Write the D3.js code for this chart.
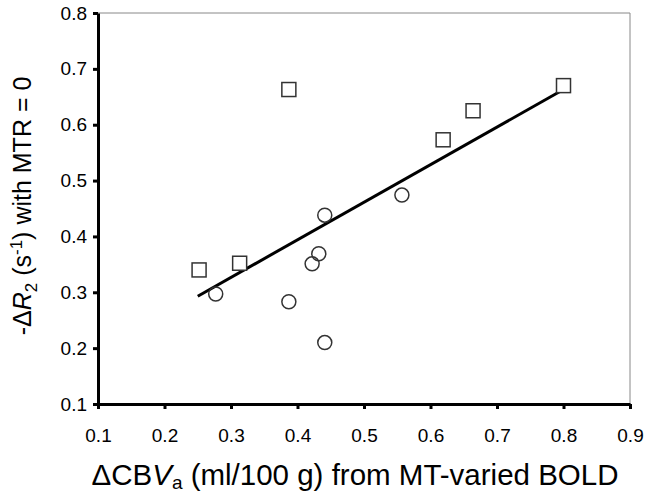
<!DOCTYPE html>
<html><head><meta charset="utf-8">
<script src="https://cdn.jsdelivr.net/npm/d3@7"></script>
<style>body{margin:0;background:#fff}svg{display:block;font-family:"Liberation Sans",Arial,sans-serif}</style>
</head><body>
<script>
const xTicks = [0.1,0.2,0.3,0.4,0.5,0.6,0.7,0.8,0.9];
const yTicks = [0.1,0.2,0.3,0.4,0.5,0.6,0.7,0.8];
const squaresX = [0.252,0.313,0.387,0.619,0.664,0.800];
const squaresY = [0.340,0.352,0.663,0.573,0.625,0.670];
const circlesX = [0.277,0.387,0.422,0.432,0.441,0.441,0.557];
const circlesY = [0.297,0.283,0.351,0.369,0.438,0.210,0.474];
const fitX = [0.25,0.80];
const fitY = [0.293,0.663];

const W=649,H=494;
const svg=d3.select("body").append("svg").attr("width",W).attr("height",H);
const x=d3.scaleLinear().domain([0.1,0.9]).range([98,630]);
const y=d3.scaleLinear().domain([0.1,0.8]).range([404,13]);

// gray frame top/right
svg.append("line").attr("x1",x(0.1)).attr("x2",x(0.9)).attr("y1",y(0.8)).attr("y2",y(0.8)).attr("stroke","#888").attr("stroke-width",1);
svg.append("line").attr("x1",x(0.9)).attr("x2",x(0.9)).attr("y1",y(0.8)).attr("y2",y(0.1)).attr("stroke","#888").attr("stroke-width",1);

const fmt=d=>d.toFixed(1);
const xa=svg.append("g").attr("transform",`translate(0,${y(0.1)})`)
  .call(d3.axisBottom(x).tickValues(xTicks).tickFormat(fmt).tickSize(5).tickSizeOuter(0).tickPadding(20));
const ya=svg.append("g").attr("transform",`translate(${x(0.1)},0)`)
  .call(d3.axisLeft(y).tickValues(yTicks).tickFormat(fmt).tickSize(5).tickSizeOuter(0).tickPadding(6));
[xa,ya].forEach(a=>{
  a.attr("font-size",19).attr("font-family","Liberation Sans, Arial, sans-serif");
  a.select(".domain").attr("stroke","#000").attr("stroke-width",3);
  a.selectAll(".tick line").attr("stroke","#000").attr("stroke-width",3);
  a.selectAll(".tick text").attr("fill","#000");
});

// fit line
svg.append("line").attr("x1",x(fitX[0])).attr("y1",y(fitY[0])).attr("x2",x(fitX[1])).attr("y2",y(fitY[1]))
  .attr("stroke","#000").attr("stroke-width",3);

const sq=squaresX.map((v,i)=>({x:v,y:squaresY[i]}));
const ci=circlesX.map((v,i)=>({x:v,y:circlesY[i]}));
const s=14;
svg.append("g").selectAll("rect").data(sq).join("rect")
  .attr("x",d=>x(d.x)-s/2).attr("y",d=>y(d.y)-s/2).attr("width",s).attr("height",s)
  .attr("fill","#fff").attr("stroke","#333").attr("stroke-width",1.5);
svg.append("g").selectAll("circle").data(ci).join("circle")
  .attr("cx",d=>x(d.x)).attr("cy",d=>y(d.y)).attr("r",7)
  .attr("fill","none").attr("stroke","#333").attr("stroke-width",1.5);

// x title
const xt=svg.append("text").attr("x",0).attr("y",485).attr("font-size",29.5).attr("fill","#000");
xt.append("tspan").text("ΔCB");
xt.append("tspan").attr("font-style","italic").text("V");
xt.append("tspan").attr("font-size",19).attr("dy",4).text("a");
xt.append("tspan").attr("dy",-4).text(" (ml/100 g) from MT-varied BOLD");
const xb=xt.node().getBBox();
xt.attr("x",355-xb.width/2);

// y title
const yt=svg.append("text").attr("x",0).attr("y",0).attr("font-size",25).attr("fill","#000");
yt.append("tspan").text("-Δ");
yt.append("tspan").attr("font-style","italic").text("R");
yt.append("tspan").attr("font-size",17).attr("dy",6).text("2");
yt.append("tspan").attr("dy",-6).text(" (s");
yt.append("tspan").attr("font-size",17).attr("dy",-9).text("-1");
yt.append("tspan").attr("dy",9).text(") with MTR = 0");
const yb=yt.node().getBBox();
yt.attr("transform",`translate(31,${206+yb.width/2}) rotate(-90)`);
</script>
</body></html>
